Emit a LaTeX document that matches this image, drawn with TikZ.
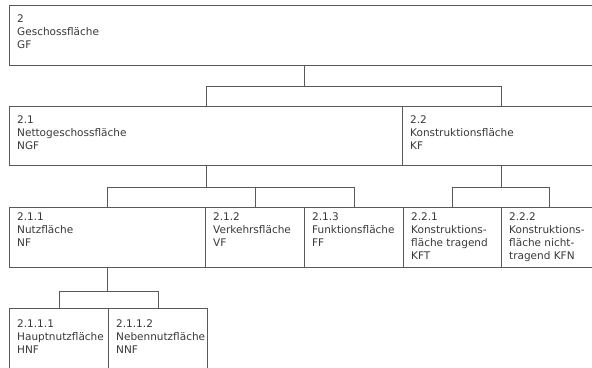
\documentclass[tikz,border=0pt]{standalone}
\usepackage{fontspec}
\setmainfont{DejaVu Sans}
\begin{document}
\begin{tikzpicture}[x=1pt,y=-1pt,
  box/.style={draw=black!65, line width=1.2pt, rectangle, inner sep=0pt, anchor=north west},
  txt/.style={anchor=north west, inner sep=0pt, align=left, text=black!78,
    font=\fontsize{10.5}{13}\selectfont},
  link/.style={draw=black!65, line width=1.2pt}]
\useasboundingbox (0,0) rectangle (592,367);
\clip (0,0) rectangle (592,367);
% boxes: name, corners, text offset
\newcommand{\mkbox}[6]{%
  \node[box, minimum width={#4-#2}, minimum height={#5-#3}] (#1) at (#2,#3) {};
  \coordinate (#1-t) at ([shift={(8,#6)}]#1.north west);}
\mkbox{gf}{9}{5}{599}{65}{10}
\mkbox{ngf}{9}{106}{402}{165}{10}
\mkbox{kf}{402}{106}{600}{165}{10}
\mkbox{nf}{9}{207}{205}{267}{6}
\mkbox{vf}{205}{207}{304}{267}{6}
\mkbox{ff}{304}{207}{403}{267}{6}
\mkbox{kft}{403}{207}{501}{267}{6}
\mkbox{kfn}{501}{207}{597}{267}{6}
\mkbox{hnf}{9}{308}{108}{385}{12}
\mkbox{nnf}{108}{308}{207}{385}{12}
% texts
\node[txt] (gf-l) at (gf-t) {2\\Geschossfläche\\GF};
\node[txt] (ngf-l) at (ngf-t) {2.1\\Nettogeschossfläche\\NGF};
\node[txt] (kf-l) at (kf-t) {2.2\\Konstruktionsfläche\\KF};
\node[txt] (nf-l) at (nf-t) {2.1.1\\Nutzfläche\\NF};
\node[txt] (vf-l) at (vf-t) {2.1.2\\Verkehrsfläche\\VF};
\node[txt] (ff-l) at (ff-t) {2.1.3\\Funktionsfläche\\FF};
\node[txt] (kft-l) at (kft-t) {2.2.1\\Konstruktions-\\fläche tragend\\KFT};
\node[txt] (kfn-l) at (kfn-t) {2.2.2\\Konstruktions-\\fläche nicht-\\tragend KFN};
\node[txt] (hnf-l) at (hnf-t) {2.1.1.1\\Hauptnutzfläche\\HNF};
\node[txt] (nnf-l) at (nnf-t) {2.1.1.2\\Nebennutzfläche\\NNF};
% connectors
\draw[link] (gf.south) -- ++(0,20) coordinate (b1);
\draw[link] (ngf.north) |- (b1) -| (kf.north);
\draw[link] (ngf.south) -- ++(0,21) coordinate (b2);
\draw[link] (nf.north) |- (b2) -| (ff.north);
\draw[link] (vf.north) -- (vf.north |- b2);
\draw[link] (kf.south) -- ++(0,21) coordinate (b3);
\draw[link] (kft.north) |- (b3) -| (kfn.north);
\draw[link] (nf.south) -- ++(0,23) coordinate (b4);
\draw[link] (hnf.north) |- (b4) -| (nnf.north);
\end{tikzpicture}
\end{document}
